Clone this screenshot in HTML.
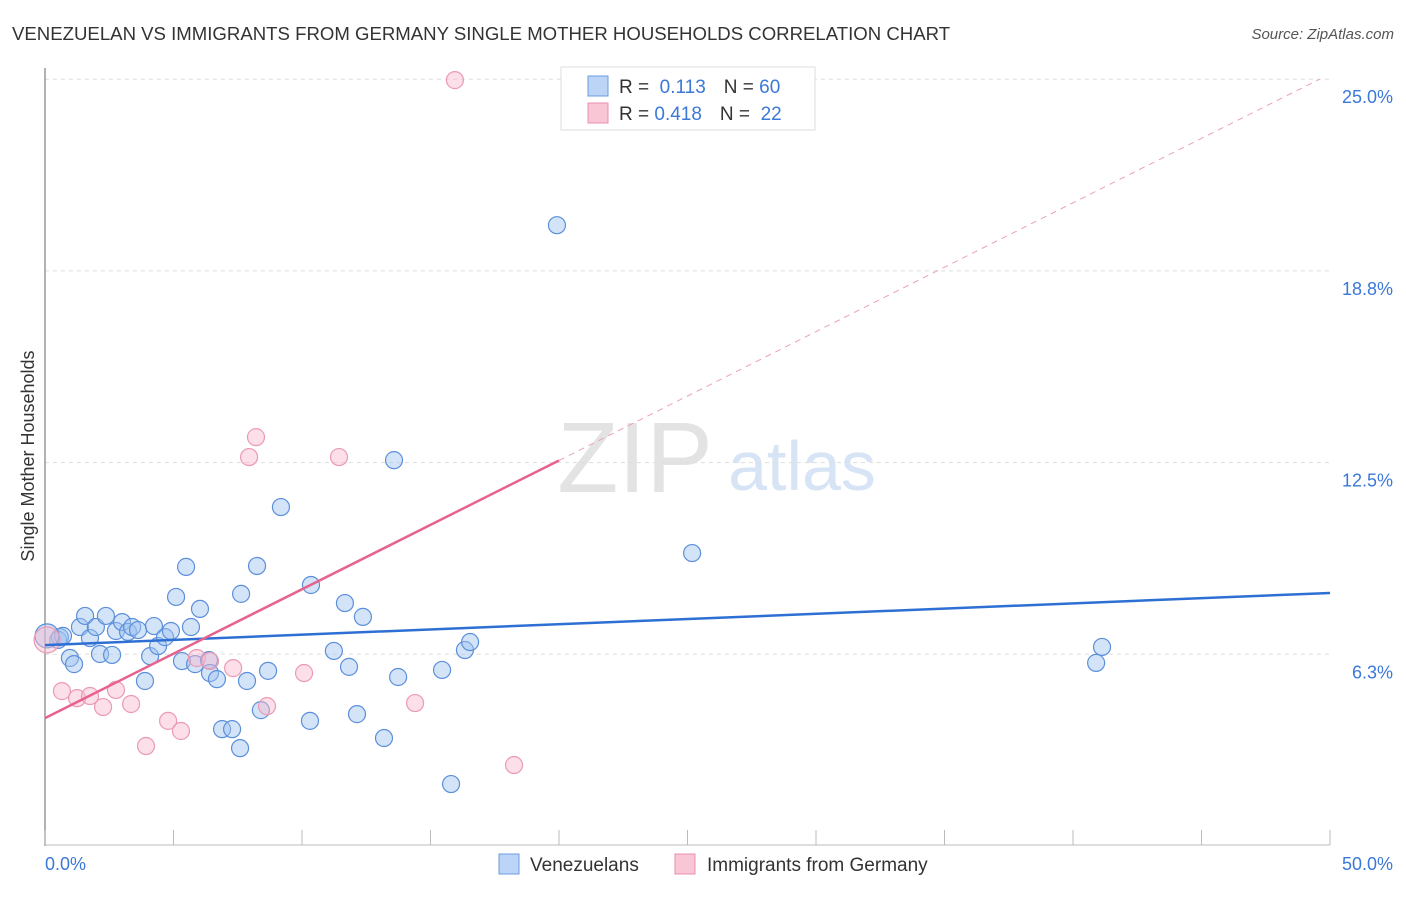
<!DOCTYPE html>
<html><head><meta charset="utf-8"><style>
body{margin:0;background:#fff;font-family:"Liberation Sans",sans-serif;}
svg text{font-family:"Liberation Sans",sans-serif;}
</style></head><body>
<svg id="chart" width="1406" height="892">
<text x="12" y="40" font-size="18.6" fill="#333">VENEZUELAN VS IMMIGRANTS FROM GERMANY SINGLE MOTHER HOUSEHOLDS CORRELATION CHART</text>
<text x="1394" y="39" font-size="15" fill="#555" font-style="italic" text-anchor="end">Source: ZipAtlas.com</text>
<text x="635" y="492" font-size="100" fill="#e3e3e3" font-family="Liberation Serif" text-anchor="middle">ZIP</text>
<text x="802" y="490" font-size="70" fill="#d6e4f5" text-anchor="middle">atlas</text>
<g id="grid"></g>
<g id="axes"></g>
<g id="marks"></g>
<text transform="translate(34,456) rotate(-90)" font-size="18" fill="#333" text-anchor="middle">Single Mother Households</text>
<g>
<rect x="561" y="67" width="254" height="63" fill="#fff" stroke="#ddd"/>
<rect x="588" y="76" width="20" height="20" fill="#bcd4f5" stroke="#6a9be0"/>
<rect x="588" y="103" width="20" height="20" fill="#f9c6d6" stroke="#ec8fae"/>
<text x="619" y="93" font-size="19" fill="#333">R = <tspan fill="#3b78d8">&#160;0.113</tspan><tspan dx="18" fill="#333">N = </tspan><tspan fill="#3b78d8">60</tspan></text>
<text x="619" y="120" font-size="19" fill="#333">R = <tspan fill="#3b78d8">0.418</tspan><tspan dx="18" fill="#333">N = </tspan><tspan fill="#3b78d8">&#160;22</tspan></text>
</g>
<g>
<rect x="499" y="854" width="20" height="20" fill="#bcd4f5" stroke="#6a9be0"/>
<text x="530" y="871" font-size="19" fill="#333">Venezuelans</text>
<rect x="675" y="854" width="20" height="20" fill="#f9c6d6" stroke="#ec8fae"/>
<text x="707" y="871" font-size="19" fill="#333">Immigrants from Germany</text>
</g>
</svg>
<script>
const blueX=[0.51,0.58,0.70,0.97,1.13,1.36,1.56,1.75,1.98,2.14,2.37,2.61,2.76,3.00,3.23,3.39,3.62,3.89,4.09,4.24,4.40,4.67,4.90,5.10,5.33,5.49,5.68,5.84,6.03,6.38,6.42,6.69,6.89,7.28,7.59,7.63,7.86,8.25,8.40,8.68,9.18,10.31,10.35,11.24,11.67,11.83,12.14,12.37,13.19,13.58,13.74,15.45,15.80,16.34,16.54,19.92,25.18,40.90,41.13,0.08];
const blueY=[6.72,6.81,6.85,6.13,5.93,7.14,7.50,6.78,7.14,6.26,7.50,6.23,7.01,7.30,6.98,7.14,7.04,5.38,6.19,7.17,6.52,6.81,7.01,8.12,6.03,9.10,7.14,5.93,7.73,6.06,5.64,5.44,3.81,3.81,3.19,8.22,5.38,9.13,4.43,5.71,11.05,4.08,8.51,6.36,7.92,5.84,4.30,7.47,3.52,12.58,5.51,5.74,2.02,6.39,6.65,20.24,9.55,5.97,6.49,6.85];
const pinkX=[0.08,0.66,1.25,1.75,2.26,2.76,3.35,3.93,4.79,5.29,5.91,6.42,7.32,7.94,8.21,8.64,10.08,11.44,14.40,15.95,18.25];
const pinkY=[6.72,5.05,4.82,4.89,4.53,5.09,4.63,3.26,4.08,3.75,6.13,6.03,5.80,12.68,13.33,4.56,5.64,12.68,4.66,24.97,2.64];
const blueLine=[6.55,8.25];
const pinkLine=[4.17,0.42];
const yTicks=[6.25,12.5,18.75,25];
const yTickLabels=["6.3%","12.5%","18.8%","25.0%"];
const xTicks=[0,5,10,15,20,25,30,35,40,45,50];
const NS="http://www.w3.org/2000/svg";
const sx=v=>45+v/50*1285;
const sy=v=>846-v/6.25*191.7;
function mk(tag,attrs,parent){const e=document.createElementNS(NS,tag);for(const k in attrs)e.setAttribute(k,attrs[k]);document.getElementById(parent).appendChild(e);return e;}
yTicks.forEach((t,i)=>{
 const g=mk('line',{x1:45,x2:1330,y1:sy(t),y2:sy(t),stroke:'#ddd','stroke-dasharray':'4,4'},'grid');
 
 
 const l=mk('text',{x:1393,y:sy(t)+24,'font-size':18,fill:'#3b78d8','text-anchor':'end'},'grid');
 l.textContent=yTickLabels[i];
 
 
});
const ya=mk('line',{x1:45,x2:45,y1:68,y2:846,stroke:'#999','stroke-width':1.5},'axes');


const xa=mk('line',{x1:45,x2:1330,y1:845,y2:845,stroke:'#bbb'},'axes');


xTicks.forEach(t=>{
 const k=mk('line',{x1:sx(t),x2:sx(t),y1:830,y2:845,stroke:'#bbb'},'axes');
 
 
});
const x0=mk('text',{x:45,y:870,'font-size':18,fill:'#3b78d8'},'axes');x0.textContent='0.0%';


const x1=mk('text',{x:1393,y:870,'font-size':18,fill:'#3b78d8','text-anchor':'end'},'axes');x1.textContent='50.0%';


blueX.forEach((x,i)=>{
 const c=mk('circle',{cx:sx(x),cy:sy(blueY[i]),r:(i===blueX.length-1)?12:8.5,fill:'rgba(160,195,240,0.45)',stroke:'#5b8fdb','stroke-width':1.2},'marks');
 
 
});
pinkX.forEach((x,i)=>{
 const c=mk('circle',{cx:sx(x),cy:sy(pinkY[i]),r:i===0?13:8.5,fill:'rgba(248,185,205,0.45)',stroke:'#eb9ab5','stroke-width':1.2},'marks');
 
 
});
const bl=mk('line',{x1:sx(0),y1:sy(blueLine[0]),x2:sx(50),y2:sy(blueLine[1]),stroke:'#2e6fd4','stroke-width':2.5},'marks');


const pl=mk('line',{x1:sx(0),y1:sy(pinkLine[0]),x2:sx(20),y2:sy(pinkLine[0]+pinkLine[1]*20),stroke:'#e8628e','stroke-width':2.5},'marks');


const pd=mk('line',{x1:sx(20),y1:sy(pinkLine[0]+pinkLine[1]*20),x2:sx(49.6),y2:sy(pinkLine[0]+pinkLine[1]*49.6),stroke:'#eba0b8','stroke-width':1,'stroke-dasharray':'6,5'},'marks');


</script>
</body></html>
